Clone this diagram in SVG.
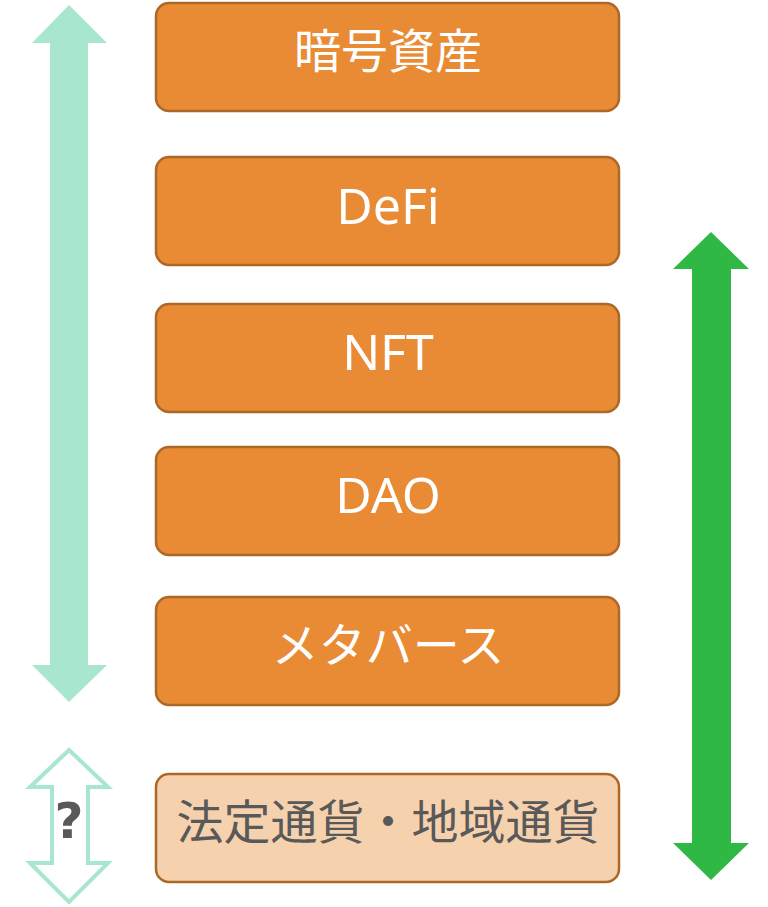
<svg xmlns="http://www.w3.org/2000/svg" width="768" height="907" viewBox="0 0 768 907">
<style>
.box{fill:#e88b34;stroke:#ad6727;stroke-width:2.5}
.box2{fill:#f5d1ad;stroke:#ad6727;stroke-width:2.5}
.t{font-family:"Noto Sans","Noto Sans CJK JP",sans-serif;font-size:47px;fill:#ffffff;text-anchor:middle;dominant-baseline:central}
.l{font-size:50px}
.t2{fill:#595959}
</style>
<rect width="768" height="907" fill="#ffffff"/>
<g id="connectors">
<polygon id="arrow-light" points="69,5 107,43 88,43 88,665 107,665 69,702 32,665 50,665 50,43 32,43" fill="#a8e6cd"/>
<polygon id="arrow-green" points="711,232 749,269 731,269 731,843 749,843 711,880 673,843 692,843 692,269 673,269" fill="#2fb944"/>
<polygon id="arrow-outline" points="69,750 108,787 88,787 88,863 108,863 69,902 30,863 52,863 52,787 30,787" fill="#ffffff" stroke="#a8e6cd" stroke-width="4" stroke-linejoin="miter"/>
<text x="69" y="821" font-family="DejaVu Sans,sans-serif" font-weight="bold" font-size="50" fill="#595959" text-anchor="middle" dominant-baseline="central">?</text>
</g>
<g id="n1"><rect class="box" x="156" y="3" width="463" height="108" rx="13"/><text class="t" x="388" y="50">暗号資産</text></g>
<g id="n2"><rect class="box" x="156" y="157" width="463" height="108" rx="13"/><text class="t l" x="388" y="205">DeFi</text></g>
<g id="n3"><rect class="box" x="156" y="304" width="463" height="108" rx="13"/><text class="t l" x="388" y="351">NFT</text></g>
<g id="n4"><rect class="box" x="156" y="447" width="463" height="108" rx="13"/><text class="t l" x="388" y="494">DAO</text></g>
<g id="n5"><rect class="box" x="156" y="597" width="463" height="108" rx="13"/><text class="t" x="388" y="644">メタバース</text></g>
<g id="n6"><rect class="box2" x="156" y="774" width="463" height="108" rx="13"/><text class="t t2" x="388" y="821">法定通貨・地域通貨</text></g>
</svg>
